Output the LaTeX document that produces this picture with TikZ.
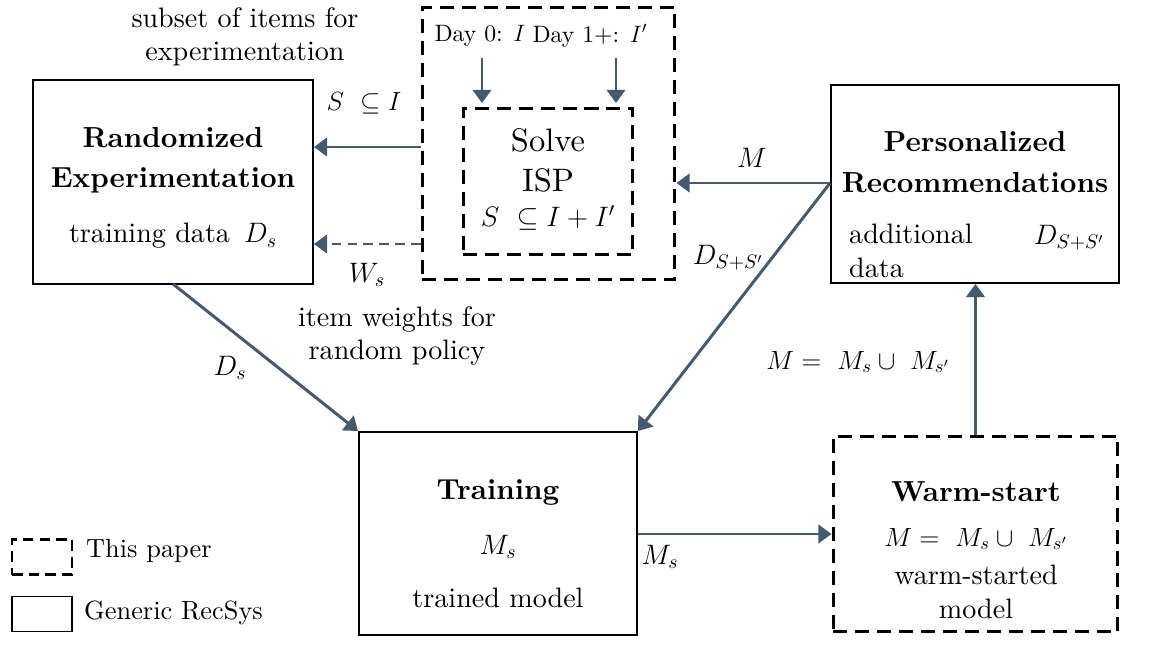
\RequirePackage{fix-cm}
\documentclass[tikz,border=0pt]{standalone}
\usepackage{amsmath}
\usepackage{amssymb}
\usepackage{fontspec}
\setmainfont{lmroman10-regular.otf}[BoldFont=lmroman10-bold.otf,ItalicFont=lmroman10-italic.otf]
\usetikzlibrary{arrows.meta}
\definecolor{flowblue}{HTML}{435A70}

\begin{document}
\begin{tikzpicture}[x=0.02cm,y=-0.02cm,
        box/.style={draw,line width=1.1pt,inner sep=0pt},
        dbox/.style={draw,line width=1.7pt,dash pattern=on 8pt off 4.5pt,inner sep=0pt},
        flow/.style={flowblue,line width=1.7pt,-{Triangle[width=10.5pt,length=7.5pt]}},
        title/.style={font=\fontsize{16.5}{20}\selectfont\bfseries,align=center},
        txt/.style={font=\fontsize{16}{19}\selectfont,align=center},
        mid/.style={font=\fontsize{15}{18}\selectfont,align=center},
        small/.style={font=\fontsize{13.5}{16}\selectfont,align=center},
        big/.style={font=\fontsize{18.5}{22}\selectfont,align=center}]

        \useasboundingbox (0,0) rectangle (1154,649);

        % Draw the boxes
        \node[box,minimum width=5.6cm,minimum height=4.08cm] (rand) at (173,182) {};
        \node[dbox,minimum width=5.06cm,minimum height=5.46cm] (group) at (548.5,143.5) {};
        \node[dbox,minimum width=3.4cm,minimum height=2.94cm] (solve) at (548,181.5) {};
        \node[box,minimum width=5.76cm,minimum height=3.96cm] (pers) at (975,184) {};
        \node[box,minimum width=5.56cm,minimum height=4.06cm] (train) at (498,533.5) {};
        \node[dbox,minimum width=5.7cm,minimum height=3.92cm] (warm) at (975.5,534) {};

        % Texts inside the boxes
        \node[title] (randA) at (173,138) {Randomized};
        \node[title] (randB) at (173,180) {Experimentation};
        \node[txt] (randC) at (173,236) {training data\, $D_s$};

        \node[small] (day0) at (480,36) {Day 0: $I$};
        \node[small] (day1) at (590,36) {Day 1+: $I'$};
        \node[big] (solveA) at (548,140) {Solve};
        \node[big] (solveB) at (548,180) {ISP};
        \node[txt] (solveC) at (548,218) {$S\ \subseteq I+I'$};

        \node[title] (persA) at (975,142) {Personalized};
        \node[title] (persB) at (975,183) {Recommendations};
        \node[txt,align=left,anchor=west] (persC) at (843,251) {additional\\data};
        \node[txt] (persD) at (1069,238) {$D_{S+S'}$};

        \node[title] (trainA) at (498,492) {Training};
        \node[txt] (trainB) at (498,547) {$M_s$};
        \node[txt] (trainC) at (498,598) {trained model};

        \node[title] (warmA) at (976,492) {Warm-start};
        \node[mid] (warmB) at (976,539) {$M=\ M_s\cup\ M_{s'}$};
        \node[txt] (warmC) at (976,575) {warm-started};
        \node[txt] (warmD) at (976,609) {model};

        % Coordinates on the box edges
        \coordinate (d0top) at (482,58);
        \coordinate (d0bot) at (482,103);
        \coordinate (d1top) at (616,58);
        \coordinate (d1bot) at (616,103);
        \coordinate (sIn) at (rand.east |- 0,147);
        \coordinate (sOut) at (group.west |- 0,147);
        \coordinate (wIn) at (rand.east |- 0,244);
        \coordinate (wOut) at (group.west |- 0,244);
        \coordinate (mOut) at (pers.west |- 0,183);
        \coordinate (mIn) at (group.east |- 0,183);
        \coordinate (dsOut) at (rand.south |- 0,284);
        \coordinate (dsIn) at (train.north west);
        \coordinate (msOut) at (train.east |- 0,534);
        \coordinate (msIn) at (warm.west |- 0,534);
        \coordinate (upOut) at (warm.north);
        \coordinate (upIn) at (pers.south -| warm.north);

        % Draw the flows
        \draw[flow] (d0top) -- (d0bot);
        \draw[flow] (d1top) -- (d1bot);
        \draw[flow] (sOut) -- (sIn);
        \draw[flow,dash pattern=on 5.5pt off 3.5pt] (wOut) -- (wIn);
        \draw[flow] (mOut) -- (mIn);
        \draw[flow] (mOut) -- (train.north east);
        \draw[flow] (dsOut) -- (dsIn);
        \draw[flow] (msOut) -- (msIn);
        \draw[flow] (upOut) -- (upIn);

        % Labels of the flows
        \node[txt] (subsetlbl) at (245,37) {subset of items for\\experimentation};
        \node[mid] (slbl) at (364,103) {$S\ \subseteq I$};
        \node[txt] (wlbl) at (367,275) {$W_s$};
        \node[txt] (weightlbl) at (397,336) {item weights for\\random policy};
        \node[txt] (dslbl) at (230,368) {$D_s$};
        \node[txt] (mlbl) at (752,158) {$M$};
        \node[txt] (dsslbl) at (728,258) {$D_{S+S'}$};
        \node[mid] (unionlbl) at (858,362) {$M=\ M_s\cup\ M_{s'}$};
        \node[txt] (mslbl) at (660,557) {$M_s$};

        % Legend
        \node[dbox,dash pattern=on 6pt off 3.5pt,minimum width=1.2cm,minimum height=0.7cm] (legdash) at (42,557) {};
        \node[mid,anchor=west] (legdashtxt) at (80,551) {This paper};
        \node[box,minimum width=1.2cm,minimum height=0.7cm] (legsolid) at (42,614) {};
        \node[mid,anchor=west] (legsolidtxt) at (78,613) {Generic RecSys};

\end{tikzpicture}
\end{document}
